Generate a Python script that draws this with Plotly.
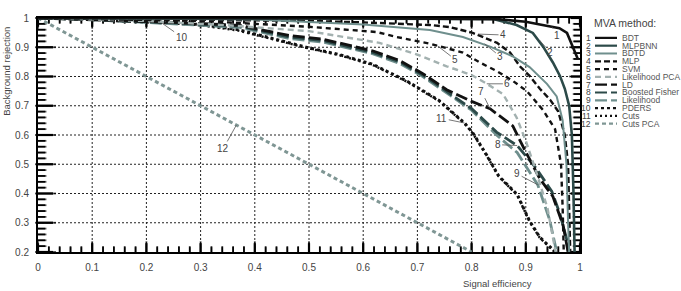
import plotly.graph_objects as go

# ---------------- data ----------------
bdt_x = [0.0, 0.6, 0.85, 0.9, 0.926, 0.948, 0.962, 0.976, 0.987, 0.996]
bdt_y = [1.0, 0.999, 0.996, 0.987, 0.978, 0.970, 0.965, 0.949, 0.902, 0.86]

mlpbnn_x = [0.0, 0.7, 0.84, 0.883, 0.913, 0.932, 0.95, 0.963, 0.972, 0.980, 0.985, 0.988, 0.990]
mlpbnn_y = [1.0, 0.999, 0.997, 0.976, 0.949, 0.902, 0.848, 0.802, 0.758, 0.70, 0.60, 0.40, 0.20]

bdtd_x = [0.0, 0.4, 0.6, 0.723, 0.784, 0.834, 0.876, 0.907, 0.939, 0.957, 0.968, 0.975, 0.978, 0.980]
bdtd_y = [1.0, 0.995, 0.978, 0.959, 0.935, 0.902, 0.869, 0.832, 0.775, 0.732, 0.65, 0.50, 0.30, 0.20]

mlp_x = [0.0, 0.3, 0.5, 0.6, 0.723, 0.76, 0.802, 0.847, 0.871, 0.889, 0.907, 0.926, 0.945, 0.960, 0.972, 0.978, 0.980, 0.982]
mlp_y = [1.0, 0.995, 0.99, 0.985, 0.976, 0.969, 0.949, 0.915, 0.882, 0.835, 0.802, 0.758, 0.72, 0.68, 0.60, 0.50, 0.35, 0.20]

svm_x = [0.0, 0.3, 0.5, 0.625, 0.662, 0.723, 0.784, 0.815, 0.847, 0.876, 0.902, 0.932, 0.954, 0.965, 0.968, 0.970]
svm_y = [1.0, 0.99, 0.97, 0.952, 0.935, 0.912, 0.882, 0.848, 0.818, 0.785, 0.75, 0.685, 0.62, 0.50, 0.35, 0.20]

lpca_x = [0.0, 0.2, 0.35, 0.5, 0.63, 0.7, 0.754, 0.8, 0.828, 0.858, 0.883, 0.9, 0.92, 0.94, 0.955]
lpca_y = [1.0, 0.99, 0.975, 0.955, 0.915, 0.875, 0.835, 0.805, 0.775, 0.74, 0.66, 0.58, 0.47, 0.35, 0.20]

ld_x = [0.0, 0.1, 0.25, 0.372, 0.464, 0.525, 0.617, 0.667, 0.71, 0.754, 0.80, 0.834, 0.876, 0.895, 0.926, 0.95, 0.969, 0.978]
ld_y = [1.0, 0.995, 0.985, 0.975, 0.94, 0.928, 0.888, 0.855, 0.81, 0.755, 0.715, 0.69, 0.631, 0.56, 0.45, 0.39, 0.29, 0.20]

bfisher_x = [0.0, 0.1, 0.25, 0.372, 0.464, 0.525, 0.617, 0.667, 0.71, 0.754, 0.80, 0.846, 0.884, 0.92, 0.948, 0.963, 0.976, 0.978]
bfisher_y = [1.0, 0.995, 0.983, 0.972, 0.935, 0.923, 0.882, 0.85, 0.805, 0.75, 0.69, 0.61, 0.564, 0.484, 0.407, 0.33, 0.24, 0.20]

lik_x = [0.0, 0.1, 0.25, 0.372, 0.464, 0.525, 0.617, 0.667, 0.71, 0.754, 0.80, 0.846, 0.884, 0.922, 0.944, 0.957]
lik_y = [1.0, 0.994, 0.98, 0.968, 0.93, 0.918, 0.878, 0.845, 0.80, 0.745, 0.685, 0.60, 0.54, 0.43, 0.31, 0.20]

pders_x = [0.0, 0.07, 0.15, 0.23, 0.3, 0.37, 0.43, 0.495, 0.556, 0.617, 0.68, 0.74, 0.787, 0.802, 0.828, 0.85, 0.884, 0.907, 0.926, 0.957]
pders_y = [1.0, 0.997, 0.99, 0.984, 0.978, 0.96, 0.93, 0.90, 0.875, 0.842, 0.785, 0.718, 0.641, 0.608, 0.531, 0.46, 0.397, 0.306, 0.25, 0.196]

cuts_x = [0.0, 0.1, 0.2, 0.3, 0.37, 0.43, 0.495, 0.556, 0.617, 0.68, 0.74, 0.787, 0.802, 0.828, 0.85, 0.884, 0.907, 0.926, 0.957]
cuts_y = [1.0, 0.998, 0.99, 0.975, 0.957, 0.928, 0.898, 0.873, 0.84, 0.783, 0.716, 0.639, 0.606, 0.529, 0.458, 0.395, 0.304, 0.248, 0.194]

cutspca_x = [0.0, 0.1, 0.2, 0.3, 0.4, 0.5, 0.6, 0.7, 0.8]
cutspca_y = [1.0, 0.9, 0.8, 0.7, 0.6, 0.5, 0.4, 0.3, 0.2]

method_names = ["BDT", "MLPBNN", "BDTD", "MLP", "SVM", "Likelihood PCA", "LD",
                "Boosted Fisher", "Likelihood", "PDERS", "Cuts", "Cuts PCA"]

# axis ticks
x_major = [0.0, 0.1, 0.2, 0.3, 0.4, 0.5, 0.6, 0.7, 0.8, 0.9, 1.0]
y_major = [0.2, 0.3, 0.4, 0.5, 0.6, 0.7, 0.8, 0.9, 1.0]
x_minor = [round(0.02 * k, 2) for k in range(51)]
y_minor = [round(0.2 + 0.02 * k, 2) for k in range(41)]

# label positions: (text x, text y, target x, target y)
label_text = ["1", "2", "3", "4", "5", "6", "7", "8", "9", "10", "11", "12"]
label_pos = [
    (0.958, 0.940, 0.948, 0.970),
    (0.945, 0.882, 0.925, 0.925),
    (0.853, 0.868, 0.824, 0.912),
    (0.858, 0.942, 0.812, 0.945),
    (0.770, 0.858, 0.737, 0.905),
    (0.866, 0.775, 0.828, 0.775),
    (0.818, 0.750, 0.834, 0.690),
    (0.848, 0.567, 0.884, 0.564),
    (0.884, 0.467, 0.922, 0.430),
    (0.265, 0.935, 0.229, 0.982),
    (0.745, 0.657, 0.787, 0.641),
    (0.342, 0.554, 0.366, 0.634),
]

# ---------------- styles ----------------
BLACK = "#111111"
TEAL = "#2c4a49"
GTEAL = "#6f8f8d"
LGRAY = "#a3b1b0"
PCA = "#7f9694"

styles = [
    dict(color=BLACK, width=2.6, dash="solid"),
    dict(color=TEAL, width=2.6, dash="solid"),
    dict(color=GTEAL, width=2.0, dash="solid"),
    dict(color=BLACK, width=2.4, dash="6px,3px"),
    dict(color=BLACK, width=2.4, dash="5px,4px"),
    dict(color=LGRAY, width=2.4, dash="6px,4px"),
    dict(color=BLACK, width=2.8, dash="12px,4px"),
    dict(color=TEAL, width=2.8, dash="12px,4px"),
    dict(color=GTEAL, width=2.8, dash="12px,4px"),
    dict(color=BLACK, width=3.0, dash="3px,3px"),
    dict(color=BLACK, width=2.4, dash="2px,3px"),
    dict(color=PCA, width=3.0, dash="4px,3px"),
]

series = [
    (bdt_x, bdt_y), (mlpbnn_x, mlpbnn_y), (bdtd_x, bdtd_y), (mlp_x, mlp_y),
    (svm_x, svm_y), (lpca_x, lpca_y), (ld_x, ld_y), (bfisher_x, bfisher_y),
    (lik_x, lik_y), (pders_x, pders_y), (cuts_x, cuts_y), (cutspca_x, cutspca_y),
]

W, H = 681, 291
ML, MR, MT, MB = 38, 101, 13, 39
PW, PH = W - ML - MR, H - MT - MB
XR = (0.0, 1.0)
YR = (0.2, 1.0)
XPX = (XR[1] - XR[0]) / PW   # data units per pixel, x
YPX = (YR[1] - YR[0]) / PH   # data units per pixel, y

fig = go.Figure()


# ---- inside tick marks on all four sides (line segments) ----
def tick_trace(major, width):
    tx, ty = [], []
    for v in x_minor:
        if (v in x_major) != major:
            continue
        ln = (9 if major else 5) * YPX
        tx += [v, v, None, v, v, None]
        ty += [YR[0], YR[0] + ln, None, YR[1], YR[1] - ln, None]
    for v in y_minor:
        if (v in y_major) != major:
            continue
        ll = (15 if major else 7) * XPX
        lr = (9 if major else 6) * XPX
        tx += [XR[0], XR[0] + ll, None, XR[1], XR[1] - lr, None]
        ty += [v, v, None, v, v, None]
    return go.Scatter(x=tx, y=ty, mode="lines", line=dict(color="black", width=width),
                      showlegend=False, hoverinfo="skip", connectgaps=False)


# ---- the same ticks again as line-shaped markers (a second rendering path) ----
def tick_markers():
    mx, my, sym, size, wid = [], [], [], [], []
    for v in x_minor:
        major = v in x_major
        ln = 9 if major else 5
        for base, sgn in ((YR[0], 1), (YR[1], -1)):
            mx.append(v)
            my.append(base + sgn * ln / 2 * YPX)
            sym.append("line-ns")
            size.append(ln)
    for v in y_minor:
        major = v in y_major
        ll = 15 if major else 7
        lr = 9 if major else 6
        mx.append(XR[0] + ll / 2 * XPX)
        my.append(v)
        sym.append("line-ew")
        size.append(ll)
        mx.append(XR[1] - lr / 2 * XPX)
        my.append(v)
        sym.append("line-ew")
        size.append(lr)
    return go.Scatter(x=mx, y=my, mode="markers",
                      marker=dict(symbol=sym, size=size, color="black",
                                  line=dict(color="black", width=1.8)),
                      showlegend=False, hoverinfo="skip", cliponaxis=False)


fig.add_trace(tick_trace(False, 1.6))
fig.add_trace(tick_trace(True, 2.2))
fig.add_trace(tick_markers())

# draw from back (12) to front (1)
for i in reversed(range(len(series))):
    xs, ys = series[i]
    fig.add_trace(go.Scatter(x=xs, y=ys, mode="lines", name=method_names[i],
                             line=styles[i], showlegend=False, hoverinfo="skip"))


def px2paper(px, py):
    return (px - ML) / PW, (H - MB - py) / PH


FONT = "Liberation Sans, Arial, sans-serif"
TXT = "#444444"

fig.update_layout(
    width=W, height=H,
    margin=dict(l=ML, r=MR, t=MT, b=MB, pad=0),
    paper_bgcolor="white", plot_bgcolor="white",
    font=dict(family=FONT, size=10, color=TXT),
    showlegend=False,
    xaxis=dict(range=list(XR), tickmode="array", tickvals=x_major, showgrid=False,
               zeroline=False, showline=True, linecolor="black", linewidth=2,
               mirror=True, ticks="", tickfont=dict(size=10, color=TXT),
               ticklabelstandoff=5),
    yaxis=dict(range=list(YR), tickmode="array", tickvals=y_major, showgrid=False,
               zeroline=False, showline=True, linecolor="black", linewidth=2,
               mirror=True, ticks="", tickfont=dict(size=10, color=TXT),
               ticklabelstandoff=5),
)

shapes = []
GRIDLINE = dict(color="#222222", width=1, dash="2px,2px")
# dotted grid
for v in x_major[1:-1]:
    shapes.append(dict(type="line", xref="x", yref="paper", x0=v, x1=v, y0=0, y1=1,
                       line=GRIDLINE, layer="below"))
for v in y_major[1:-1]:
    shapes.append(dict(type="line", xref="paper", yref="y", x0=0, x1=1, y0=v, y1=v,
                       line=GRIDLINE, layer="below"))

annotations = []
# curve labels with leader lines
for t, (tx, ty, cx, cy) in zip(label_text, label_pos):
    annotations.append(dict(x=cx, y=cy, ax=tx, ay=ty, axref="x", ayref="y",
                            xref="x", yref="y", text=t, showarrow=True, arrowhead=0,
                            arrowwidth=0.8, arrowcolor="#555555", standoff=0,
                            font=dict(size=10, color=TXT)))

# axis titles
x0, y0 = px2paper(497, 284)
annotations.append(dict(x=x0, y=y0, xref="paper", yref="paper", text="Signal efficiency",
                        showarrow=False, font=dict(size=9.5, color=TXT),
                        xanchor="center", yanchor="middle"))
x0, y0 = px2paper(7, 68)
annotations.append(dict(x=x0, y=y0, xref="paper", yref="paper", text="Background rejection",
                        showarrow=False, textangle=-90, font=dict(size=9.5, color=TXT),
                        xanchor="center", yanchor="middle"))

# legend block
x0, y0 = px2paper(625, 18)
annotations.append(dict(x=x0, y=y0, xref="paper", yref="paper", text="MVA method:",
                        showarrow=False, font=dict(size=10.5, color=TXT),
                        xanchor="center", yanchor="middle"))
for i, name in enumerate(method_names):
    py = 33.3 + 7.97 * i
    xn, yn = px2paper(593, py)
    annotations.append(dict(x=xn, y=yn, xref="paper", yref="paper", text=str(i + 1),
                            showarrow=False, font=dict(size=8.5, color=TXT),
                            xanchor="right", yanchor="middle"))
    xt, yt = px2paper(620, py)
    annotations.append(dict(x=xt, y=yt, xref="paper", yref="paper", text=name,
                            showarrow=False, font=dict(size=8.5, color="#555555"),
                            xanchor="left", yanchor="middle"))
    xa, ya = px2paper(595, py)
    xb, _ = px2paper(617, py)
    st = styles[i]
    shapes.append(dict(type="line", xref="paper", yref="paper", x0=xa, x1=xb, y0=ya, y1=ya,
                       line=dict(color=st["color"], width=min(st["width"], 2.2),
                                 dash=st["dash"])))

fig.update_layout(annotations=annotations, shapes=shapes)
fig.write_html("out.html")
